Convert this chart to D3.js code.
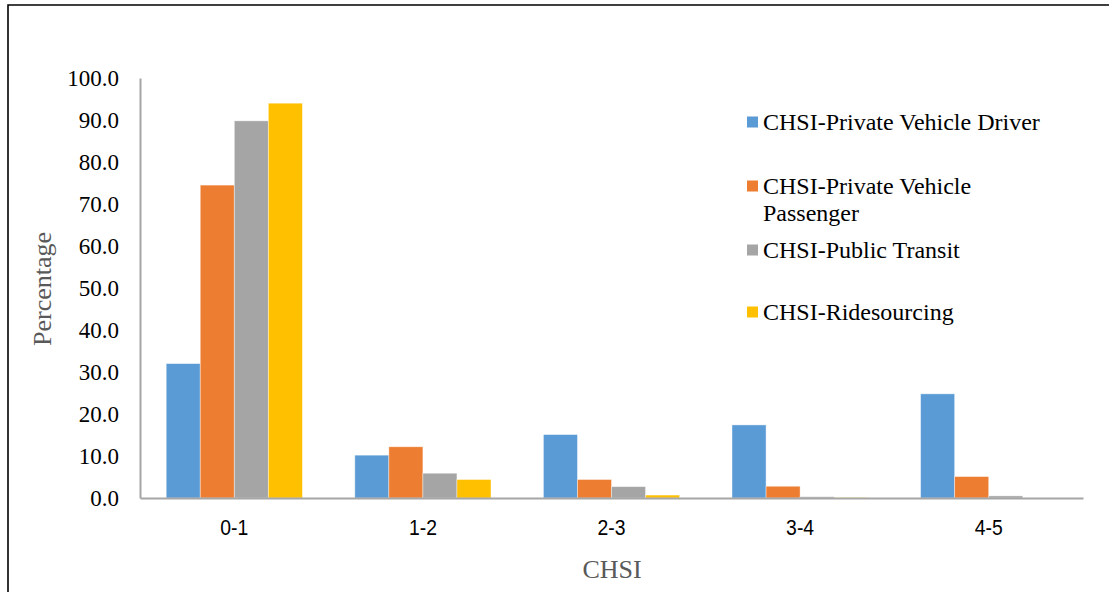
<!DOCTYPE html>
<html><head><meta charset="utf-8">
<script src="https://cdn.jsdelivr.net/npm/d3@7"></script>
<style>body{margin:0;background:#fff}svg{display:block}</style>
</head><body>
<svg id="c" width="1109" height="592"></svg>
<script>
const categories = ["0-1","1-2","2-3","3-4","4-5"];
const seriesNames = ["CHSI-Private Vehicle Driver","CHSI-Private Vehicle Passenger","CHSI-Public Transit","CHSI-Ridesourcing"];
const driver    = [32.0, 10.2, 15.1, 17.4, 24.8];
const passenger = [74.5, 12.2, 4.4, 2.8, 5.1];
const transit   = [89.8, 5.9, 2.7, 0.3, 0.5];
const rides     = [94.0, 4.4, 0.7, 0.1, 0.0];
const yTicks = [0,10,20,30,40,50,60,70,80,90,100];
const colors = ["#5B9BD5","#ED7D31","#A5A5A5","#FFC000"];
const seriesValues = [driver, passenger, transit, rides];

const svg = d3.select("#c");
// frame
svg.append("path").attr("d","M8,600 L8,5 L1120,5").attr("fill","none").attr("stroke","#000").attr("stroke-width",1.6);

const x0 = d3.scaleBand().domain(categories).range([140,1083]).padding(0);
const x1 = d3.scaleBand().domain(d3.range(4)).range([0,x0.bandwidth()]).paddingInner(0).paddingOuter(0.77);
const y = d3.scaleLinear().domain([0,100]).range([498,78]);

const serif = "Liberation Serif, Times New Roman, serif";

// bars
categories.forEach((c,ci)=>{
  seriesValues.forEach((vals,si)=>{
    svg.append("rect")
      .attr("x", x0(c)+x1(si))
      .attr("y", y(vals[ci]))
      .attr("width", x1.bandwidth())
      .attr("height", y(0)-y(vals[ci]))
      .attr("fill", colors[si])
      .attr("stroke","#fff").attr("stroke-opacity",0.5).attr("stroke-width",0.8);
  });
});

// y axis
const yAxis = d3.axisLeft(y).tickValues(yTicks).tickFormat(d3.format(".1f")).tickSize(0).tickPadding(21);
const gy = svg.append("g").attr("transform","translate(140,0)").call(yAxis);
gy.select(".domain").attr("stroke","#A6A6A6").attr("stroke-width",2);
gy.selectAll("text").style("font-family",serif).style("font-size","23px").attr("fill","#000");

// x axis
const xAxis = d3.axisBottom(x0).tickSize(0).tickPadding(21);
const gx = svg.append("g").attr("transform","translate(0,498)").call(xAxis);
gx.select(".domain").attr("stroke","#A6A6A6").attr("stroke-width",2);
gx.selectAll("text").style("font-family","Liberation Sans, Arial, sans-serif").style("font-size","22px")
  .attr("fill","#000").attr("transform","scale(0.88,1)");

// axis titles
svg.append("text").attr("x",612).attr("y",578).attr("text-anchor","middle")
  .style("font-family",serif).style("font-size","26px").attr("fill","#595959").text("CHSI");
svg.append("text").attr("transform","translate(51,289) rotate(-90)").attr("text-anchor","middle")
  .style("font-family",serif).style("font-size","26px").attr("fill","#595959").text("Percentage");

// legend
const legendRows = [
  {lines:["CHSI-Private Vehicle Driver"], y:122},
  {lines:["CHSI-Private Vehicle","Passenger"], y:186},
  {lines:["CHSI-Public Transit"], y:250},
  {lines:["CHSI-Ridesourcing"], y:312}
];
legendRows.forEach((r,i)=>{
  svg.append("rect").attr("x",747).attr("y",r.y-5.5).attr("width",11).attr("height",11).attr("fill",colors[i]);
  const t = svg.append("text").attr("x",763).attr("y",r.y+8)
    .style("font-family",serif).style("font-size","24px").attr("fill","#000");
  r.lines.forEach((l,li)=>{
    t.append("tspan").attr("x",763).attr("dy", li===0?0:27).text(l);
  });
});
</script>
</body></html>
